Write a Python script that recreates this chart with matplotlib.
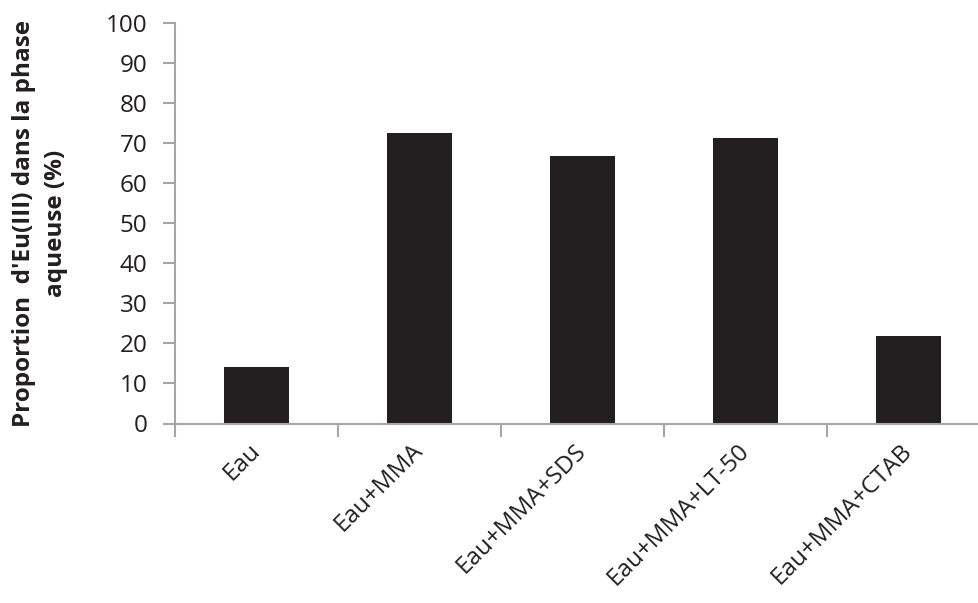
import matplotlib.pyplot as plt
import numpy as np

plt.rcParams['font.family'] = ['Open Sans', 'DejaVu Sans']

categories = ['Eau', 'Eau+MMA', 'Eau+MMA+SDS', 'Eau+MMA+LT-50', 'Eau+MMA+CTAB']
proportion = [14.2, 72.5, 66.8, 71.3, 21.8]
yticks = list(range(0, 101, 10))

W, H = 979, 603
fig = plt.figure(figsize=(W / 100, H / 100), dpi=100)
ax = fig.add_axes([175 / W, 1 - 423.5 / H, (990 - 175) / W, (423.5 - 23.3) / H])

x = np.arange(len(categories))
ax.bar(x, proportion, width=0.4, color='#231f20', zorder=2)

ax.set_xlim(-0.5, len(categories) - 0.5)
ax.set_ylim(0, 100)
ax.set_yticks(yticks)
ax.set_yticklabels([str(t) for t in yticks], fontsize=17.5, color='#231f20')

# category boundaries carry the ticks, labels sit at the centres
ax.set_xticks(np.arange(len(categories) + 1) - 0.5)
ax.set_xticklabels([])
ax.set_xticks(x, minor=True)
ax.set_xticklabels(categories, minor=True, rotation=45, ha='right', va='center',
                   rotation_mode='anchor', fontsize=17.5, color='#231f20')
ax.tick_params(axis='x', which='minor', length=0, pad=17)
ax.tick_params(axis='x', which='major', length=9, width=1.5, color='#a6a6a6')
ax.tick_params(axis='y', length=9, width=1.5, color='#a6a6a6', pad=11)

for side in ['top', 'right']:
    ax.spines[side].set_visible(False)
for side in ['left', 'bottom']:
    ax.spines[side].set_color('#a6a6a6')
    ax.spines[side].set_linewidth(1.5)

ax.set_ylabel("Proportion  d'Eu(III) dans la phase\naqueuse (%)", fontsize=17.5,
              fontweight='bold', color='#231f20', linespacing=1.45)
ax.yaxis.set_label_coords(-0.131, 0.5)

fig.savefig('out.png', dpi=100)
